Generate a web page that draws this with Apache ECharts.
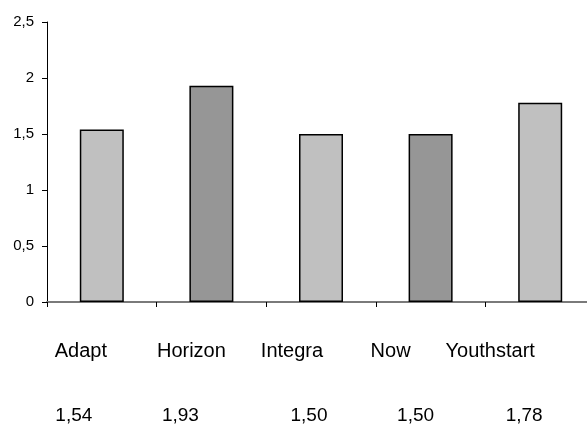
<!DOCTYPE html>
<html>
<head>
<meta charset="utf-8">
<script src="https://cdn.jsdelivr.net/npm/echarts@6/dist/echarts.min.js"></script>
<style>
  html, body { margin: 0; padding: 0; background: #fff; }
  #chart { width: 587px; height: 425px; }
</style>
</head>
<body>
<div id="chart"></div>
<script>
// data
var categories = ['Adapt', 'Horizon', 'Integra', 'Now', 'Youthstart'];
var values = [1.54, 1.93, 1.50, 1.50, 1.78];
var valueLabels = ['1,54', '1,93', '1,50', '1,50', '1,78'];
var barColors = ['#c0c0c0', '#969696', '#c0c0c0', '#969696', '#c0c0c0'];

// shifts of the table text from the bar centres (px)
var nameShift = [-21, -20, -29, -40, -50];
var valueShift = [-28, -31, -12, -15, -16];

var myChart = echarts.init(document.getElementById('chart'));

var option = {
  animation: false,
  grid: { left: 47, top: 22, right: -8, bottom: 123, outerBoundsMode: 'none', containLabel: false },
  xAxis: {
    type: 'category',
    data: categories,
    axisLine: { lineStyle: { color: '#7a7a7a', width: 2 } },
    axisTick: { show: true, length: 5, lineStyle: { color: '#000', width: 1 } },
    axisLabel: { show: false },
    splitLine: { show: false }
  },
  yAxis: {
    type: 'value',
    min: 0,
    max: 2.5,
    interval: 0.5,
    axisLine: { show: true, lineStyle: { color: '#000', width: 1 } },
    axisTick: { show: true, length: 5, lineStyle: { color: '#000', width: 1 } },
    axisLabel: {
      margin: 13,
      color: '#000',
      fontFamily: 'Liberation Sans, Arial',
      fontSize: 15,
      formatter: function (v) { return String(v).replace('.', ','); }
    },
    splitLine: { show: false }
  },
  series: [{
    type: 'bar',
    barWidth: 44,
    data: values.map(function (v, i) {
      return { value: v, itemStyle: { color: barColors[i] } };
    }),
    itemStyle: { borderColor: '#000', borderWidth: 1.5 }
  }]
};
myChart.setOption(option);

// table under the chart
var texts = [];
categories.forEach(function (c, i) {
  var px = myChart.convertToPixel({ xAxisIndex: 0 }, c);
  texts.push({
    type: 'text', x: px + nameShift[i], y: 351,
    style: { text: c, font: '20px "Liberation Sans", Arial', fill: '#000',
      textAlign: 'center', textVerticalAlign: 'middle' }
  });
  texts.push({
    type: 'text', x: px + valueShift[i], y: 416,
    style: { text: valueLabels[i], font: '19px "Liberation Sans", Arial', fill: '#000',
      textAlign: 'center', textVerticalAlign: 'middle' }
  });
});
myChart.setOption({ graphic: texts });
</script>
</body>
</html>
